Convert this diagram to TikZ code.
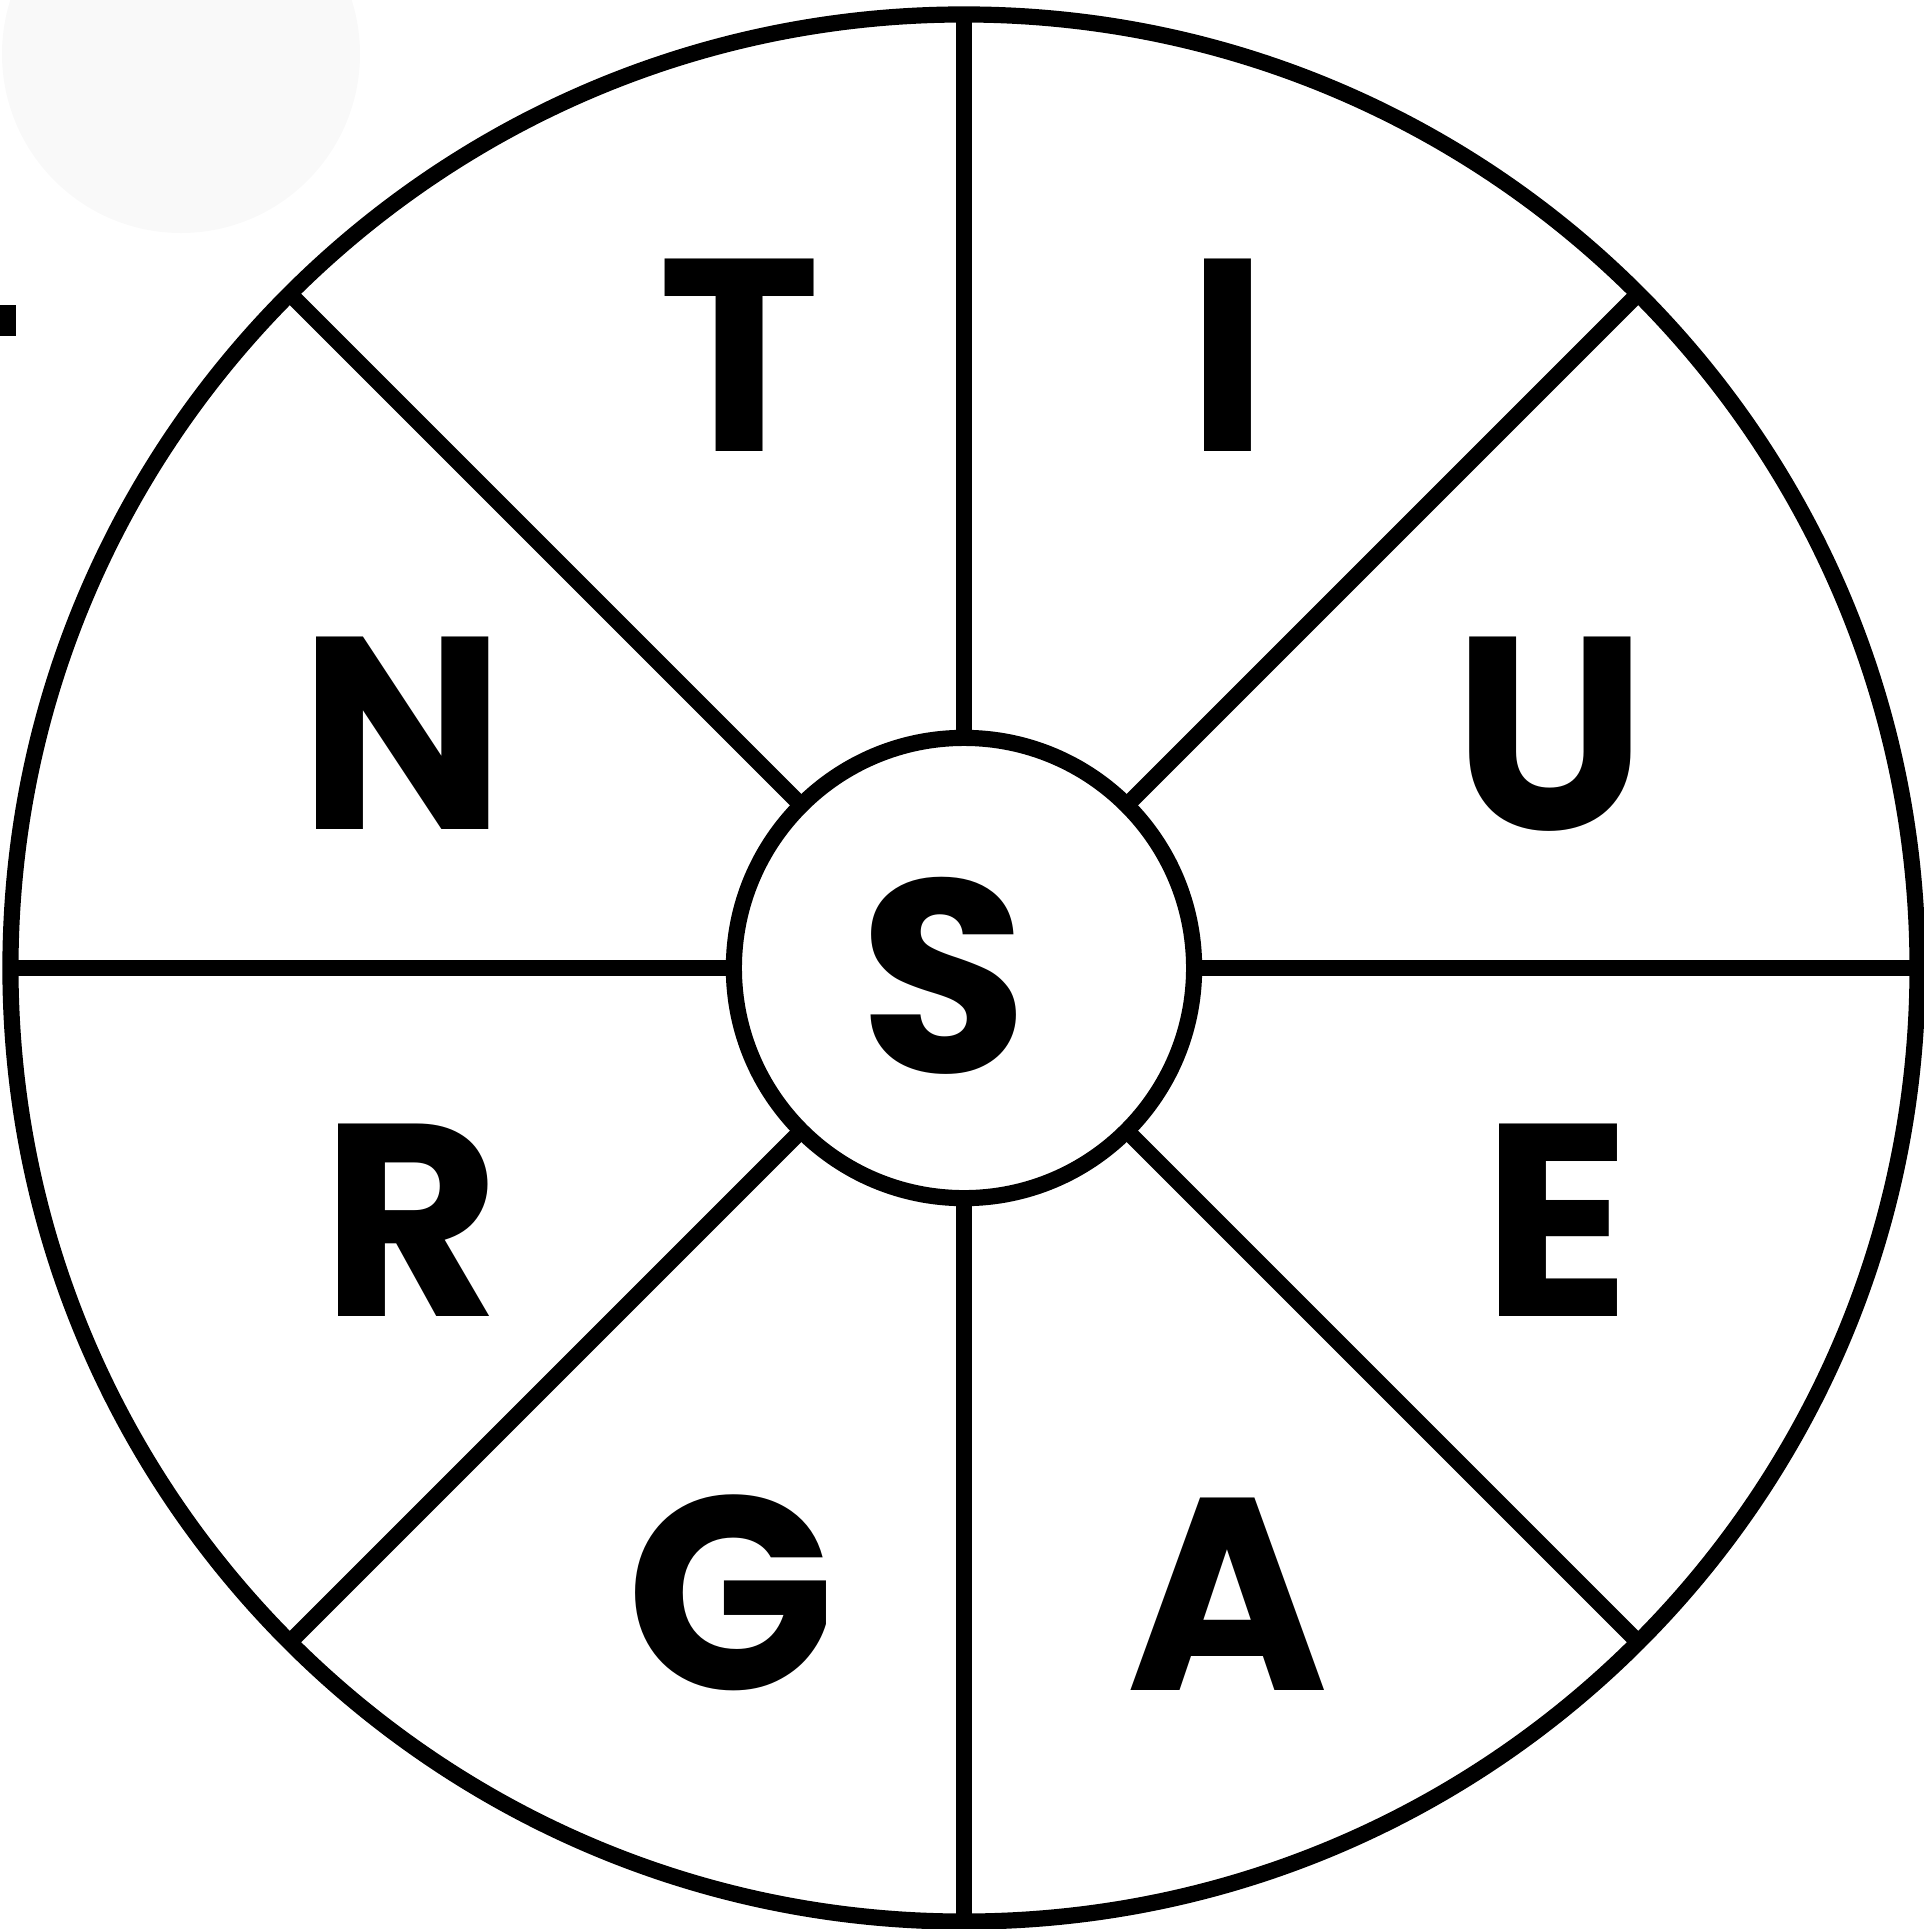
\documentclass[tikz,border=0pt]{standalone}
\usepackage{fontspec}
\setmainfont{Poppins}
\definecolor{blotgray}{HTML}{F9F9F9}
\tikzset{
	ring/.style={circle, draw, line width=4.6pt, outer sep=0pt, inner sep=0pt},
	spoke/.style={line width=4.6pt},
	letter/.style={font=\fontsize{78}{80}\selectfont\bfseries, anchor=base, inner sep=0pt}
}

\begin{document}
\begin{tikzpicture}[x=0.01cm, y=-0.01cm]
	\useasboundingbox (0,0) rectangle (1924,1929);
	% stray marks top left
	\fill[blotgray] (181,54) circle (179);
	\fill (0,305) rectangle (16,336);
	
	\node[ring, minimum size=19.06cm] (rim) at (964,968) {};
	\node[ring, minimum size=4.6cm] (hub) at (964,968) {};
	\foreach \a in {0,45,...,315}
		\draw[spoke] (hub.\a) -- (rim.\a);
	
	\node[letter] (s) at (944,1072) {S};
	\node[letter] (t) at (740,451) {T};
	\node[letter] (i) at (1228,451) {I};
	\node[letter] (n) at (403,829) {N};
	\node[letter] (u) at (1550,829) {U};
	\node[letter] (r) at (411,1316) {R};
	\node[letter] (e) at (1557,1316) {E};
	\node[letter] (g) at (731,1689) {G};
	\node[letter] (a) at (1228,1690) {A};
\end{tikzpicture}
\end{document}
